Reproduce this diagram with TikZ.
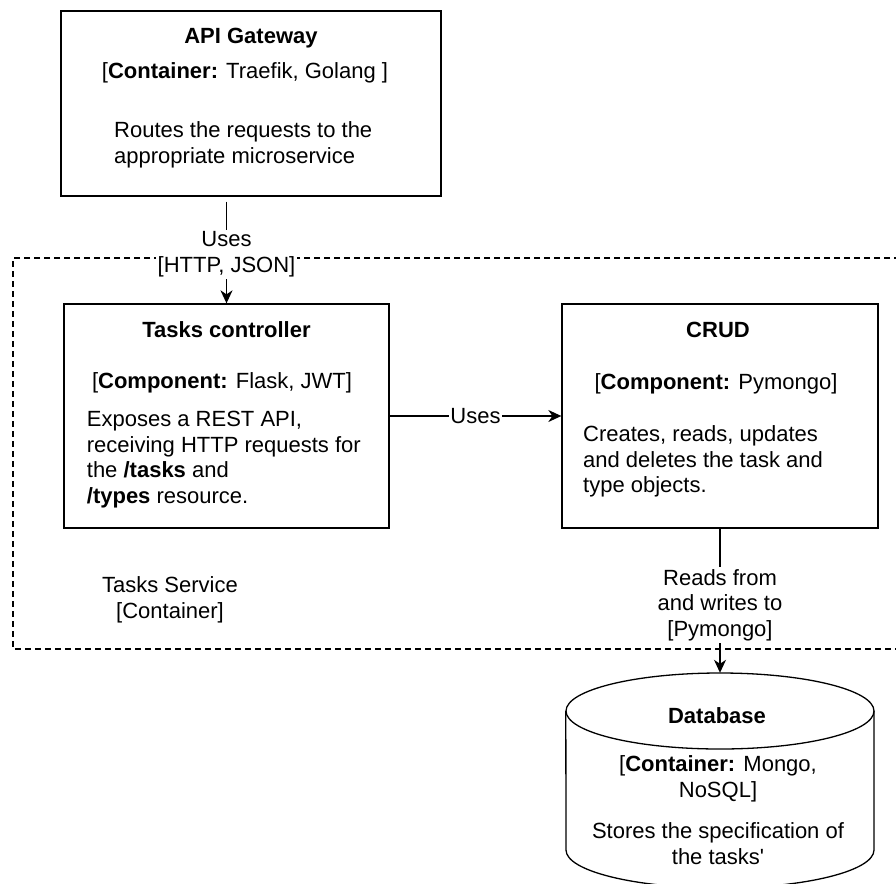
\documentclass[tikz,border=0pt]{standalone}
\usepackage{fontspec}
\setmainfont{Liberation Sans}
\newfontfamily\rawsans{Liberation Sans}[Ligatures=TeXOff]
\usetikzlibrary{arrows.meta}

\tikzset{
  box/.style={draw, line width=1.3pt, inner sep=0pt, fill=white},
  ghost/.style={inner sep=0pt},
  txt/.style={inner sep=0pt, font=\fontsize{22}{25.6}\selectfont},
  % multi-line text blocks are anchored on the baseline of their last line
  ctxt/.style={txt, align=center, anchor=base},
  ltxt/.style={txt, align=left, anchor=base west},
  arr/.style={line width=1.3pt, -{Stealth[length=13pt, width=12pt, inset=4pt]}},
  lbl/.style={fill=white, inner sep=2pt, align=center,
    font=\fontsize{22}{25.6}\selectfont},
  boundary/.style={line width=1.3pt, dash pattern=on 6pt off 4pt}
}

\begin{document}
\begin{tikzpicture}[x=1pt, y=-1pt]
\useasboundingbox (0,0) rectangle (896,883);
\clip (0,0) rectangle (896,883);

% container boundary of the tasks service (open to the right)
\draw[boundary] (920,258) -- (13,258) -- (13,649) -- (920,649);
\node[ctxt] (svc) at (170,618.3) {Tasks Service\\{[}Container]};

% API gateway
\node[box, minimum width=380pt, minimum height=185pt] (gw) at (251,103.5) {};
\node[ctxt] (gwt) at (251,44) {\textbf{API Gateway}};
\node[ctxt] (gwk) at (245,78) {[\textbf{Container:} Traefik, Golang ]};
\node[ltxt] (gwd) at (114,163.3) {Routes the requests to the\\appropriate microservice};

% tasks controller component
\node[box, minimum width=325pt, minimum height=224pt] (tc) at (226.5,416) {};
\node[ctxt] (tct) at (226.5,337.3) {\textbf{Tasks controller}};
\node[ctxt] (tck) at (222,388.5) {[\textbf{Component:} Flask, JWT]};
\node[ltxt] (tcd) at (86.7,503.5) {Exposes a REST API,\\receiving HTTP requests for\\the \textbf{/tasks} and\\\textbf{/types} resource.};

% CRUD component
\node[box, minimum width=316pt, minimum height=224pt] (crud) at (720,416) {};
\node[ctxt] (crt) at (718,337.3) {\textbf{CRUD}};
\node[ctxt] (crk) at (716,389.5) {[\textbf{Component:} Pymongo]};
\node[ltxt] (crd) at (583,492.9) {Creates, reads, updates\\and deletes the task and\\type objects.};

% database cylinder
\node[ghost, minimum width=308pt, minimum height=215pt] (db) at (720,780.5) {};
\draw[line width=1.3pt, fill=white] (db.north west) ++(0,38) -- (566,850)
  arc[start angle=180, end angle=360, x radius=154pt, y radius=38pt] -- (874,711);
\draw[line width=1.3pt] (720,711) ellipse [x radius=154pt, y radius=38pt];
\node[ctxt] (dbt) at (717,723) {\textbf{Database}};
\node[ctxt] (dbk) at (718,797.5) {[\textbf{Container:} Mongo,\\NoSQL]};
\node[ctxt] (dbd) at (718,864) {Stores the specification of\\the tasks{\rawsans '}};

% relationships
\draw[arr, shorten <=5pt] (gw.south -| tc.north) --
  node[lbl, pos=0.54] {Uses\\{[}HTTP, JSON]} (tc.north);
\draw[arr] (tc.east) -- node[lbl, inner sep=1pt] {Uses} (crud.west);
\draw[arr] (crud.south) --
  node[lbl, pos=0.53] {Reads from\\and writes to\\{[}Pymongo]} (db.north);
\end{tikzpicture}
\end{document}
